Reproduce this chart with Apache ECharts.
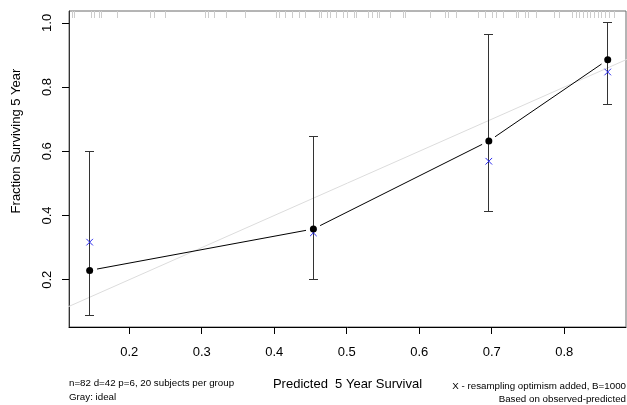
<!DOCTYPE html>
<html><head><meta charset="utf-8">
<script src="https://cdn.jsdelivr.net/npm/echarts@6/dist/echarts.min.js"></script>
<style>html,body{margin:0;padding:0;background:#fff}#c{width:627px;height:405px}</style>
</head><body><div id="c"></div>
<script>
// ---- data ----
const groupPredicted = [0.1454, 0.454, 0.696, 0.860];
const groupObserved = [0.229, 0.358, 0.632, 0.885];
const ciLower = [0.088, 0.200, 0.412, 0.747];
const ciUpper = [0.600, 0.645, 0.965, 1.000];
const optimismCorrected = [0.317, 0.346, 0.569, 0.847];
const rugPredicted = [0.1213, 0.1238, 0.148, 0.1514, 0.159, 0.1615, 0.1841, 0.2293, 0.2353, 0.2494,
  0.3047, 0.3096, 0.3171, 0.3336, 0.3599, 0.4025, 0.4075, 0.4151, 0.425, 0.4351, 0.4427, 0.4627,
  0.4652, 0.4728, 0.4778, 0.4854, 0.4953, 0.5004, 0.5104, 0.513, 0.5305, 0.5355, 0.5431, 0.5456,
  0.5606, 0.5782, 0.5808, 0.6159, 0.636, 0.641, 0.6511, 0.6812, 0.6912, 0.7012, 0.7063, 0.7162,
  0.7339, 0.7364, 0.7465, 0.7514, 0.7615, 0.7865, 0.7941, 0.8116, 0.8167, 0.8217, 0.8267, 0.8318,
  0.8368, 0.8417, 0.8468, 0.8518, 0.8569, 0.8619, 0.8693];
const idealLine = [[0, 0], [1, 1]];
const xTicks = [0.2, 0.3, 0.4, 0.5, 0.6, 0.7, 0.8];
const yTicks = [0.2, 0.4, 0.6, 0.8, 1.0];
const xRange = [0.1169, 0.8852];
const yRange = [0.0527, 1.037];
const xTitle = 'Predicted  5 Year Survival';
const yTitle = 'Fraction Surviving 5 Year';
const notesLeft = ['n=82 d=42 p=6, 20 subjects per group', 'Gray: ideal'];
const notesRight = ['X - resampling optimism added, B=1000', 'Based on observed-predicted'];

// ---- chart ----
const FONT = '"Liberation Sans", Arial, Helvetica, sans-serif';
const chart = echarts.init(document.getElementById('c'), null, {renderer: 'canvas'});
const pts = groupPredicted.map((x, i) => [x, groupObserved[i]]);
const segs = pts.slice(0, -1).map((p, i) => [p[0], p[1], pts[i + 1][0], pts[i + 1][1]]);
const bars = groupPredicted.map((x, i) => [x, ciLower[i], ciUpper[i]]);
const crosses = groupPredicted.map((x, i) => [x, optimismCorrected[i]]);
const crisp = v => Math.round(v - 0.5) + 0.5;

const option = {
  animation: false,
  grid: {left: 69, right: 1, top: 11, bottom: 78, show: true, borderColor: '#6a6a6a', borderWidth: 1, backgroundColor: 'transparent'},
  xAxis: {
    type: 'value', min: xRange[0], max: xRange[1],
    axisLine: {show: true, lineStyle: {color: '#000', width: 1}},
    axisTick: {show: true, length: 7, inside: false, customValues: xTicks, lineStyle: {color: '#000'}},
    axisLabel: {show: true, customValues: xTicks, margin: 19, fontSize: 13, color: '#000', fontFamily: FONT,
      formatter: v => v.toFixed(1)},
    splitLine: {show: false}
  },
  yAxis: {
    type: 'value', min: yRange[0], max: yRange[1],
    axisLine: {show: true, lineStyle: {color: '#333', width: 1}},
    axisTick: {show: true, length: 7, inside: false, customValues: yTicks, lineStyle: {color: '#000'}},
    axisLabel: {show: true, customValues: yTicks, margin: 15, rotate: 90, align: 'center', verticalAlign: 'bottom',
      fontSize: 13, color: '#000', fontFamily: FONT, formatter: v => v.toFixed(1)},
    splitLine: {show: false}
  },
  series: [
    {type: 'line', data: idealLine, symbol: 'none', silent: true, clip: true, z: 1,
      lineStyle: {color: '#dcdcdc', width: 1}},
    {type: 'custom', data: segs, z: 2, silent: true, clip: true,
      renderItem: (params, api) => {
        const a = api.coord([api.value(0), api.value(1)]);
        const b = api.coord([api.value(2), api.value(3)]);
        const dx = b[0] - a[0], dy = b[1] - a[1];
        const L = Math.hypot(dx, dy), g = 7.5;
        const ux = dx / L, uy = dy / L;
        return {type: 'line', shape: {x1: a[0] + ux * g, y1: a[1] + uy * g, x2: b[0] - ux * g, y2: b[1] - uy * g},
          style: {stroke: '#000', lineWidth: 1}};
      }},
    {type: 'custom', data: bars, z: 3, silent: true,
      renderItem: (params, api) => {
        const lo = api.coord([api.value(0), api.value(1)]);
        const hi = api.coord([api.value(0), api.value(2)]);
        const x = crisp(lo[0]), y1 = crisp(lo[1]), y2 = crisp(hi[1]), w = 4.5;
        const st = {stroke: '#333', lineWidth: 1};
        return {type: 'group', children: [
          {type: 'line', shape: {x1: x, y1: y1, x2: x, y2: y2}, style: st},
          {type: 'line', shape: {x1: x - w, y1: y1, x2: x + w, y2: y1}, style: st},
          {type: 'line', shape: {x1: x - w, y1: y2, x2: x + w, y2: y2}, style: st}
        ]};
      }},
    {type: 'custom', data: crosses, z: 4, silent: true,
      renderItem: (params, api) => {
        const p = api.coord([api.value(0), api.value(1)]);
        const r = 3.3;
        const st = {stroke: '#2a2aee', lineWidth: 1};
        return {type: 'group', children: [
          {type: 'line', shape: {x1: p[0] - r, y1: p[1] - r, x2: p[0] + r, y2: p[1] + r}, style: st},
          {type: 'line', shape: {x1: p[0] - r, y1: p[1] + r, x2: p[0] + r, y2: p[1] - r}, style: st}
        ]};
      }},
    {type: 'scatter', data: pts, z: 5, symbol: 'circle', symbolSize: 7, silent: true,
      itemStyle: {color: '#000', opacity: 1}},
    {type: 'custom', data: rugPredicted.map(v => [v]), z: 6, silent: true,
      renderItem: (params, api) => {
        const p = api.coord([api.value(0), yRange[1]]);
        const x = crisp(p[0]);
        return {type: 'line', shape: {x1: x, y1: p[1], x2: x, y2: p[1] + 7},
          style: {stroke: '#cccccc', lineWidth: 1}};
      }}
  ],
  graphic: [
    {type: 'text', x: 16, y: 141, rotation: Math.PI / 2, silent: true,
      style: {text: yTitle, font: '13px ' + FONT, fill: '#000', align: 'center', verticalAlign: 'middle'}},
    {type: 'text', x: 347.5, y: 384, silent: true,
      style: {text: xTitle, font: '13px ' + FONT, fill: '#000', align: 'center', verticalAlign: 'middle'}},
    {type: 'text', x: 69, y: 383, silent: true,
      style: {text: notesLeft[0], font: '9.75px ' + FONT, fill: '#000', align: 'left', verticalAlign: 'middle'}},
    {type: 'text', x: 69, y: 397, silent: true,
      style: {text: notesLeft[1], font: '9.75px ' + FONT, fill: '#000', align: 'left', verticalAlign: 'middle'}},
    {type: 'text', x: 626, y: 386, silent: true,
      style: {text: notesRight[0], font: '9.75px ' + FONT, fill: '#000', align: 'right', verticalAlign: 'middle'}},
    {type: 'text', x: 626, y: 399, silent: true,
      style: {text: notesRight[1], font: '9.75px ' + FONT, fill: '#000', align: 'right', verticalAlign: 'middle'}}
  ]
};
chart.setOption(option);
</script>
</body></html>
